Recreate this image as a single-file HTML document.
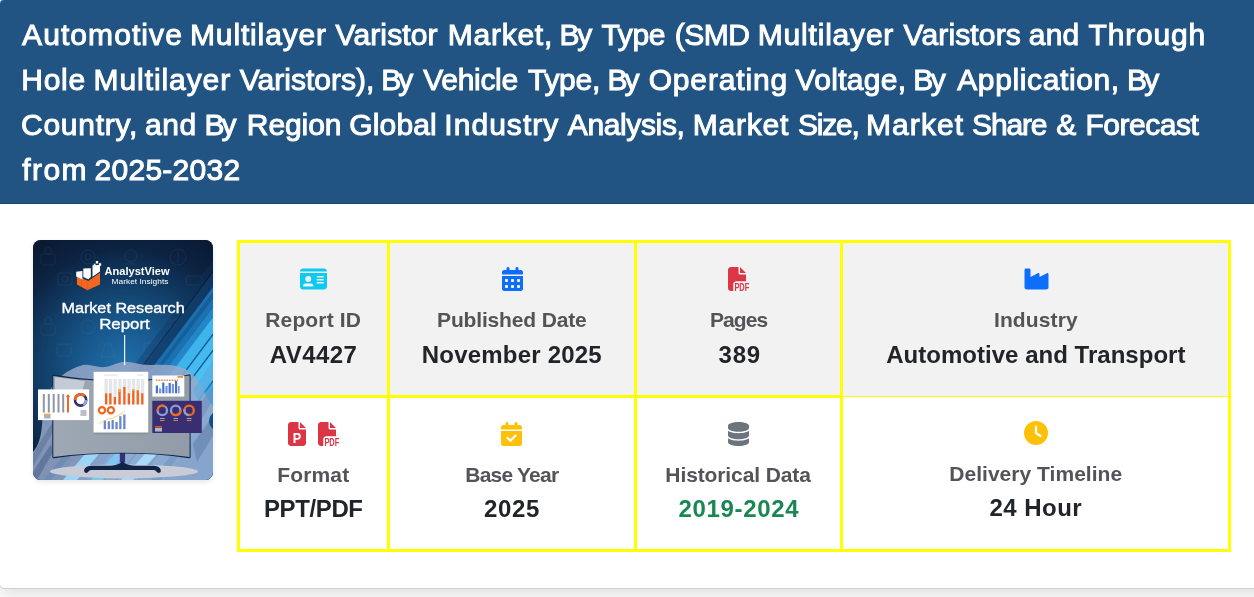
<!DOCTYPE html>
<html lang="en">
<head>
<meta charset="utf-8">
<title>Automotive Multilayer Varistor Market</title>
<style>
*{box-sizing:border-box;margin:0;padding:0}
html,body{width:1254px;height:597px;overflow:hidden}
body{background:#fff;font-family:"Liberation Sans",sans-serif;position:relative;color:#212529}
.card{position:absolute;left:-1px;top:-1px;width:1300px;height:590px;background:#fff;border:1px solid #cfcfcf;border-radius:5px;box-shadow:0 8px 16px rgba(0,0,0,.11)}
.hdr{position:absolute;left:0;top:0;width:1254px;height:204px;background:#215483;border-bottom:1px solid #1c4870;border-top-left-radius:4px;color:#fff}
.hdr h1{font-size:30px;line-height:45px;font-weight:400;-webkit-text-stroke:1px #fff}
.ln{position:absolute;left:0;height:45px;white-space:nowrap;display:block}
.ln span{position:absolute;top:0}
.cover{position:absolute;left:33px;top:240px;width:180px;height:240px;border-radius:8px;overflow:hidden;background:#0c2340;box-shadow:0 2px 5px rgba(0,0,0,.1)}
.cover svg{display:block}
.tbl{position:absolute;left:237px;top:240px;width:994px;height:312px;background:#ff0}
.bg{position:absolute}
.r1{background:#f2f2f2}
.r2{background:#fff}
.lab,.val{position:absolute;white-space:nowrap;font-weight:700}
.lab{font-size:21px;line-height:24px;color:#525458}
.val{font-size:24px;line-height:28px;color:#212529}
.i{position:absolute;display:block;overflow:visible}

</style>
</head>
<body>
<div class="card"></div>
<div class="hdr"><h1><span class="ln" style="top:12px"><span style="left:22.05px;letter-spacing:1.078px">Automotive</span> <span style="left:190.0px;letter-spacing:0.856px">Multilayer</span> <span style="left:335.5px;letter-spacing:0.136px">Varistor</span> <span style="left:447.7px;letter-spacing:0.767px">Market,</span> <span style="left:559.6px;letter-spacing:-2.45px">By</span> <span style="left:601.5px;letter-spacing:-0.383px">Type</span> <span style="left:674.65px;letter-spacing:-0.467px">(SMD</span> <span style="left:757.8px;letter-spacing:0.8px">Multilayer</span> <span style="left:903.5px;letter-spacing:0.15px">Varistors</span> <span style="left:1028.75px;letter-spacing:0.25px">and</span> <span style="left:1088.5px;letter-spacing:0.808px">Through</span></span>
<span class="ln" style="top:57px"><span style="left:21.3px;letter-spacing:0.7px">Hole</span> <span style="left:93.6px;letter-spacing:0.911px">Multilayer</span> <span style="left:239.8px;letter-spacing:0.015px">Varistors),</span> <span style="left:381.2px;letter-spacing:-2.95px">By</span> <span style="left:423.3px;letter-spacing:-0.317px">Vehicle</span> <span style="left:528.0px;letter-spacing:-0.287px">Type,</span> <span style="left:607.6px;letter-spacing:-3.15px">By</span> <span style="left:648.65px;letter-spacing:0.844px">Operating</span> <span style="left:795.5px;letter-spacing:0.307px">Voltage,</span> <span style="left:913.2px;letter-spacing:-2.45px">By</span> <span style="left:957.25px;letter-spacing:0.614px">Application,</span> <span style="left:1127.0px;letter-spacing:-2.75px">By</span></span>
<span class="ln" style="top:102px"><span style="left:21.0px;letter-spacing:0.743px">Country,</span> <span style="left:144.95px;letter-spacing:0.55px">and</span> <span style="left:204.5px;letter-spacing:-2.95px">By</span> <span style="left:246.8px;letter-spacing:-0.07px">Region</span> <span style="left:349.2px;letter-spacing:0.17px">Global</span> <span style="left:444.35px;letter-spacing:1.029px">Industry</span> <span style="left:567.85px;letter-spacing:-0.381px">Analysis,</span> <span style="left:692.8px;letter-spacing:0.76px">Market</span> <span style="left:798.05px;letter-spacing:-1.237px">Size,</span> <span style="left:866.1px;letter-spacing:1.04px">Market</span> <span style="left:972.05px;letter-spacing:-1.175px">Share</span> <span style="left:1056.3px;letter-spacing:0.0px">&amp;</span> <span style="left:1085.5px;letter-spacing:-0.486px">Forecast</span></span>
<span class="ln" style="top:147px"><span style="left:22.25px;letter-spacing:1.45px">from</span> <span style="left:94.6px;letter-spacing:0.25px">2025-2032</span></span>
</h1></div>
<div class="cover"><svg width="180" height="240" viewBox="0 0 180 240" font-family="Liberation Sans, sans-serif">
<defs>
<radialGradient id="cg" cx="92" cy="128" r="150" gradientUnits="userSpaceOnUse">
<stop offset="0" stop-color="#2170ac"/><stop offset=".3" stop-color="#18588d"/><stop offset=".58" stop-color="#113c65"/><stop offset=".8" stop-color="#0c2342"/><stop offset="1" stop-color="#0a1a33"/>
</radialGradient>
<linearGradient id="cs" x1="0" y1="0" x2="1" y2="0"><stop offset="0" stop-color="#9ea8b3"/><stop offset="1" stop-color="#929ca8"/></linearGradient>
<clipPath id="cc"><rect width="180" height="240"/></clipPath>
</defs>
<g clip-path="url(#cc)">
<rect width="180" height="240" fill="url(#cg)"/>
<g fill="none" stroke="#7fa0c8" stroke-width=".8" opacity=".13">
<rect x="8" y="14" width="14" height="11" rx="2"/><circle cx="15" cy="11" r="3.5"/>
<circle cx="55" cy="17" r="7"/><circle cx="55" cy="17" r="3"/>
<circle cx="98" cy="16" r="6"/><path d="M92 24h12"/>
<circle cx="145" cy="17" r="8"/><path d="M145 11v12"/>
<rect x="25" y="33" width="14" height="12" rx="2"/><circle cx="32" cy="39" r="3"/>
<rect x="153" y="36" width="16" height="9" rx="3"/>
<rect x="8" y="84" width="14" height="11" rx="2"/><circle cx="15" cy="81" r="3.5"/>
<circle cx="55" cy="87" r="7"/><circle cx="145" cy="87" r="8"/>
<path d="M72 104l-4 13h14l-4-13z"/><rect x="24" y="104" width="14" height="12" rx="2"/><rect x="111" y="103" width="14" height="13" rx="1"/>
</g>
<g>
<path d="M180.0 20.0L180.0 31.0L23.2 240.0L15.0 240.0z" fill="#0f3560" opacity="0.35"/>
<path d="M180.0 31.0L180.0 32.5L24.4 240.0L23.2 240.0z" fill="#081c3a" opacity="0.8"/>
<path d="M180.0 32.5L180.0 47.0L35.2 240.0L24.4 240.0z" fill="#123c69" opacity="0.8"/>
<path d="M180.0 47.0L180.0 53.0L39.8 240.0L35.2 240.0z" fill="#1a70ae"/>
<path d="M180.0 53.0L180.0 58.0L43.5 240.0L39.8 240.0z" fill="#165f9c"/>
<path d="M180.0 58.0L180.0 67.0L50.2 240.0L43.5 240.0z" fill="#1a72b0"/>
<path d="M180.0 67.0L180.0 77.0L57.8 240.0L50.2 240.0z" fill="#2386c8"/>
<path d="M180.0 77.0L180.0 93.5L70.1 240.0L57.8 240.0z" fill="#3db5ec"/>
<path d="M180.0 93.5L180.0 95.5L71.6 240.0L70.1 240.0z" fill="#14609e"/>
<path d="M180.0 95.5L180.0 109.6L82.2 240.0L71.6 240.0z" fill="#45baf0"/>
<path d="M180.0 109.6L180.0 111.6L83.7 240.0L82.2 240.0z" fill="#14609e"/>
<path d="M180.0 111.6L180.0 140.0L105.0 240.0L83.7 240.0z" fill="#4cbff3"/>
<path d="M180.0 140.0L180.0 142.0L106.5 240.0L105.0 240.0z" fill="#1767a8"/>
<path d="M180.0 142.0L180.0 175.0L131.2 240.0L106.5 240.0z" fill="#3aa9e6"/>
<path d="M180.0 175.0L180.0 240.0L180.0 240.0L131.2 240.0z" fill="#2b8fd2"/>
</g>
<path d="M0 240V212C6 205 8 196 9 185C10 165 16 148 25 139C32 132 42 127 50 125C58 123.500 64 128 72 127C80 126 85 121.800 92 121.800C100 121.800 108 125.500 118 125C130 124.400 142 124 151 128.500C160 133 165 140 169 148C173 156 178 162 180 167V240z" fill="#98a9cb" opacity=".84"/>
<g opacity=".55">
<path d="M0 214L22 178L26 182L0 226z" fill="#5b7396"/>
<path d="M0 232L18 204L20 212L4 240H0z" fill="#47618a"/>
<path d="M160 150L180 120V140L166 162z" fill="#5aa9e0"/>
<path d="M158 176L180 146V160L162 190z" fill="#6f8db8"/>
<path d="M160 204L180 176V196L164 222z" fill="#5f7fa8"/>
</g>
<circle cx="186" cy="181" r="10" fill="#0f4f8a"/>
<g>
<path d="M30 240L52 214H66L44 240z" fill="#9bd6f8"/><path d="M58 240L82 214H92L70 240z" fill="#7fc6f2"/><path d="M88 240L112 214H124L100 240z" fill="#a6dcfa"/><path d="M118 240L138 216H146L128 240z" fill="#7c9cc4"/><path d="M10 240L30 216H38L18 240z" fill="#6f8cb4"/>
</g>
<ellipse cx="90.9" cy="231.4" rx="74" ry="7" fill="#c9ccd6"/>
<path d="M86.800 213h5.300v9.500h-5.300z" fill="#3b2f73"/>
<path d="M89.500 220.500C87 225.500 80 225.800 70 225.800H58.500C53.500 225.800 50.800 228.600 51.200 231.200C51.500 233.200 54.300 233.500 55.400 231.800C56.300 230.400 57.800 230.100 60 230.100H119C121.200 230.100 122.700 230.400 123.600 231.800C124.700 233.500 127.500 233.200 127.800 231.200C128.200 228.600 125.500 225.800 120.500 225.800H109C99 225.800 92 225.500 89.500 220.500z" fill="#10244a"/>
<path d="M19.300 135.200Q20 134.400 21.500 134.700C45 138.500 68 140.300 89 140.300C110 140.300 133 138.400 156 134.400Q157.500 134.200 157.600 135.500V217Q157.600 218.500 156 218.200C134 215 112 213.600 89.500 213.600C67 213.600 43 215 21 218.200Q19.300 218.400 19.300 217z" fill="#12264c"/>
<path d="M20.300 135.900C45 139.700 68 141.300 89 141.300C110 141.300 133 139.500 156.600 135.600V217C134 214 112 212.700 89.500 212.700C67 212.700 43 214 20.300 217z" fill="url(#cs)"/>
<path d="M22 137.300L52 141L48 156L22 150z" fill="#c3cbd4"/>
<path d="M23 172C30 180 40 182 48 178L52 160L23 158z" fill="#b4bec9" opacity=".8"/>
<rect x="61" y="190" width="54.500" height="4.500" fill="#8a949f"/>
<rect x="5" y="149.400" width="51.100" height="30.700" fill="#fff"/>
<g fill="#8d97ab"><rect x="9.800" y="154" width="2" height="18.500"/><rect x="14.800" y="154" width="2" height="18.500"/><rect x="19.700" y="154" width="2" height="18.500"/><rect x="24.500" y="154" width="2" height="18.500"/><rect x="29.200" y="154" width="2" height="18.500"/><rect x="11" y="174.500" width="6.500" height="4" fill="#aab0bc"/><rect x="47.500" y="170" width="6" height="6" fill="#b9bec8"/></g>
<path d="M34 172.500v-15.500h-1.200l2.200-3l2.200 3h-1.200v15.500z" fill="#f2661f"/>
<rect x="11" y="173.600" width="6.500" height="1.200" fill="#f4a53a"/>
<circle cx="47.600" cy="160" r="5.600" fill="none" stroke="#3b2f73" stroke-width="2.600"/>
<path d="M42 160a5.600 5.600 0 0 1 9.500-4" fill="none" stroke="#f2661f" stroke-width="2.600"/>
<path d="M53.200 160a5.600 5.600 0 0 1-3 5" fill="none" stroke="#8f9fd8" stroke-width="2.600"/>
<rect x="60.600" y="131.800" width="54.600" height="60.700" fill="#fff"/>
<g fill="#e4e6ea"><rect x="71" y="134.500" width="14" height="1.200"/><rect x="104.500" y="134.500" width="6" height="1.200"/><rect x="71.500" y="139" width="3.200" height="25.500"/><rect x="76" y="139" width="3.200" height="25.500"/><rect x="80.500" y="139" width="3.200" height="25.500"/><rect x="85.200" y="139" width="3.200" height="25.500"/><rect x="90" y="139" width="3.200" height="25.500"/><rect x="94.500" y="139" width="3.200" height="25.500"/><rect x="99" y="139" width="3.200" height="25.500"/><rect x="103.500" y="139" width="3.200" height="25.500"/><rect x="108" y="139" width="3.200" height="25.500"/></g>
<g fill="#f2661f"><rect x="72" y="153.300" width="2.300" height="11.200"/><rect x="76.200" y="153.300" width="2.300" height="11.200"/><rect x="80.700" y="157" width="2.300" height="7.500"/><rect x="85.400" y="149.400" width="2.300" height="15.100"/><rect x="90.200" y="146.900" width="2.300" height="17.600"/><rect x="94.700" y="153.300" width="2.300" height="11.200"/><rect x="99.100" y="149.400" width="2.300" height="15.100"/><rect x="103.600" y="150.300" width="2.300" height="14.200"/><rect x="108.100" y="153.300" width="2.300" height="11.200"/></g>
<g fill="#f7b042"><rect x="85.400" y="149.400" width="2.300" height="2.600"/><rect x="99.100" y="149.400" width="2.300" height="1.600"/></g>
<circle cx="69" cy="170.300" r="3.100" fill="none" stroke="#f2661f" stroke-width="2.200"/><circle cx="77.900" cy="170.300" r="3.100" fill="none" stroke="#f2661f" stroke-width="2.200"/>
<g fill="#6c88c9"><rect x="70.700" y="180.400" width="2.300" height="8.800"/><rect x="74.700" y="181.200" width="2.300" height="8"/><rect x="78.500" y="180" width="2.300" height="9.200"/><rect x="82.400" y="182" width="2.300" height="7.200"/><rect x="86.200" y="176.200" width="2.300" height="13"/><rect x="90.200" y="174.500" width="2.300" height="14.700"/></g>
<path d="M66 183.500L74 179.500L80 178L84 176L88 174L92 171" fill="none" stroke="#f7c04a" stroke-width=".7"/>
<rect x="119.300" y="135.500" width="32" height="21.100" fill="#fff"/>
<rect x="144.500" y="136" width="5.500" height="1.800" fill="#f28a3a"/>
<path d="M123 140.200h22" stroke="#f28a3a" stroke-width="1.400" stroke-dasharray="1.600 1"/>
<g fill="#3e73d2"><rect x="122.800" y="145.500" width="2.200" height="7.800"/><rect x="126" y="148.500" width="2.200" height="4.800" fill="#7d93d6"/><rect x="129.200" y="142.500" width="2.200" height="10.800"/><rect x="132.400" y="146" width="2.200" height="7.300" fill="#7d93d6"/><rect x="135.600" y="143" width="2.200" height="10.300"/><rect x="138.800" y="144" width="2.200" height="9.300" fill="#7d93d6"/><rect x="142" y="141" width="2.200" height="12.300"/><rect x="145" y="146" width="1.600" height="7.300" fill="#7d93d6"/></g>
<rect x="119.300" y="160.800" width="49.500" height="32.200" fill="#3a2e73"/>
<g fill="none" stroke-width="2.300"><circle cx="129.300" cy="170.400" r="4.700" stroke="#8c9cd8"/><circle cx="142.700" cy="170.400" r="4.700" stroke="#8c9cd8"/><circle cx="156.100" cy="170.400" r="4.700" stroke="#f2661f"/>
<path d="M124.600 170.400a4.700 4.700 0 0 1 7-4.100" stroke="#f2661f"/><path d="M147.400 170.400a4.700 4.700 0 0 1-8.800 2.300" stroke="#f2661f"/><path d="M156.100 175.100a4.700 4.700 0 0 1-4.500-6" stroke="#8c9cd8"/></g>
<g fill="#b0b6c8"><rect x="127" y="178" width="4.600" height=".9"/><rect x="140.400" y="178" width="4.600" height=".9"/><rect x="153.800" y="178" width="4.600" height=".9"/><rect x="122" y="188" width="7" height="3.500"/></g>
<g fill="#f28a3a"><rect x="127" y="180" width="4.600" height=".9"/><rect x="140.400" y="180" width="4.600" height=".9"/><rect x="153.800" y="180" width="4.600" height=".9"/><rect x="122" y="186.200" width="7" height="1.300" fill="#f2661f"/></g>
<rect x="91.100" y="95" width="1.100" height="30.200" fill="#fff"/>
<g>
<path d="M43.900 36L55.300 41L67 32.700V44.400L54.400 50.300L43.900 44.400z" fill="#f2661f"/>
<path d="M54.400 42.500v7.800M48.500 39.500v7" stroke="#d9541a" stroke-width=".6" fill="none"/>
<path d="M43.200 31.800L49.400 31v8.600L43.200 36.500zM50.300 28.500L57.800 28.300V37L55.300 39.300L50.300 37zM59.500 25.200L67 25v6.500L59.500 36.800z" fill="#fff"/>
<path d="M62.800 21h2.400v2.400h-2.400zM65.800 23.300h2.400v2.400h-2.400zM60.700 23.800h1.800v1.800h-1.800z" fill="#fff"/>
</g>
<text x="71.500" y="34.900" font-size="10" font-weight="700" fill="#fff" textLength="65" lengthAdjust="spacingAndGlyphs">AnalystView</text>
<text x="78.600" y="44.100" font-size="7.200" fill="#fff" textLength="56.800" lengthAdjust="spacingAndGlyphs">Market Insights</text>
<text x="28.400" y="73.400" font-size="14.800" fill="#fff" stroke="#fff" stroke-width=".35" textLength="123.300" lengthAdjust="spacingAndGlyphs">Market Research</text>
<text x="66.200" y="89.300" font-size="14.800" fill="#fff" stroke="#fff" stroke-width=".35" textLength="50.600" lengthAdjust="spacingAndGlyphs">Report</text>
</g>
</svg>
</div>
<div class="tbl">
<div class="bg r1" style="left:3px;top:3px;width:147px;height:152px"></div>
<div class="bg r1" style="left:153px;top:3px;width:244px;height:152px"></div>
<div class="bg r1" style="left:400px;top:3px;width:203px;height:152px"></div>
<div class="bg r1" style="left:606px;top:3px;width:385px;height:153px"></div>
<div class="bg r2" style="left:3px;top:158px;width:147px;height:151px"></div>
<div class="bg r2" style="left:153px;top:158px;width:244px;height:151px"></div>
<div class="bg r2" style="left:400px;top:158px;width:203px;height:151px"></div>
<div class="bg r2" style="left:606px;top:157px;width:385px;height:152px"></div>
</div>
<div class="lab" style="left:265.25px;top:308px;letter-spacing:0.15px">Report ID</div>
<div class="val" style="left:269.7px;top:341px;letter-spacing:0.44px">AV4427</div>
<div class="lab" style="left:437.05px;top:308px;letter-spacing:-0.158px">Published Date</div>
<div class="val" style="left:421.8px;top:341px;letter-spacing:0.204px">November 2025</div>
<div class="lab" style="left:709.95px;top:308px;letter-spacing:-0.913px">Pages</div>
<div class="val" style="left:718.5px;top:341px;letter-spacing:0.825px">389</div>
<div class="lab" style="left:993.95px;top:308px;letter-spacing:0.129px">Industry</div>
<div class="val" style="left:886.2px;top:341px;letter-spacing:0.026px">Automotive and Transport</div>
<div class="lab" style="left:277.35px;top:463px;letter-spacing:0.13px">Format</div>
<div class="val" style="left:263.9px;top:495px;letter-spacing:-0.367px">PPT/PDF</div>
<div class="lab" style="left:465.35px;top:463px;letter-spacing:-0.788px">Base Year</div>
<div class="val" style="left:484.05px;top:495px;letter-spacing:0.633px">2025</div>
<div class="lab" style="left:665.35px;top:463px;letter-spacing:-0.107px">Historical Data</div>
<div class="val" style="left:678.55px;top:495px;letter-spacing:0.663px;color:#198754">2019-2024</div>
<div class="lab" style="left:949.25px;top:462px;letter-spacing:0.031px">Delivery Timeline</div>
<div class="val" style="left:989.55px;top:494px;letter-spacing:0.458px">24 Hour</div>
<svg class="i" style="left:300px;top:267px" width="27" height="24" viewBox="0 0 576 512" fill="#0dcaf0"><path d="M0 96l576 0c0-35.300-28.700-64-64-64L64 32C28.700 32 0 60.700 0 96zm0 32L0 416c0 35.300 28.700 64 64 64l448 0c35.300 0 64-28.700 64-64l0-288L0 128zM64 405.300c0-29.500 23.900-53.300 53.300-53.300l117.300 0c29.500 0 53.300 23.900 53.300 53.300c0 5.900-4.800 10.700-10.700 10.700L74.700 416c-5.900 0-10.700-4.800-10.700-10.700zM176 192a64 64 0 1 1 0 128 64 64 0 1 1 0-128zm176 16c0-8.800 7.200-16 16-16l128 0c8.800 0 16 7.200 16 16s-7.200 16-16 16l-128 0c-8.800 0-16-7.200-16-16zm0 64c0-8.800 7.200-16 16-16l128 0c8.800 0 16 7.200 16 16s-7.200 16-16 16l-128 0c-8.800 0-16-7.200-16-16zm0 64c0-8.800 7.200-16 16-16l128 0c8.800 0 16 7.200 16 16s-7.200 16-16 16l-128 0c-8.800 0-16-7.200-16-16z"/></svg>
<svg class="i" style="left:501.6px;top:267px" width="21" height="24" viewBox="0 0 448 512" fill="#0d6efd"><path d="M128 0c17.700 0 32 14.300 32 32V64H288V32c0-17.700 14.300-32 32-32s32 14.300 32 32V64h48c26.500 0 48 21.500 48 48v48H0V112C0 85.500 21.500 64 48 64H96V32c0-17.700 14.300-32 32-32zM0 192H448V464c0 26.500-21.500 48-48 48H48c-26.500 0-48-21.500-48-48V192zm64 80v32c0 8.800 7.200 16 16 16h32c8.800 0 16-7.200 16-16V272c0-8.800-7.200-16-16-16H80c-8.800 0-16 7.200-16 16zm128 0v32c0 8.800 7.200 16 16 16h32c8.800 0 16-7.200 16-16V272c0-8.800-7.200-16-16-16H208c-8.800 0-16 7.200-16 16zm144-16c-8.800 0-16 7.200-16 16v32c0 8.800 7.200 16 16 16h32c8.800 0 16-7.200 16-16V272c0-8.800-7.200-16-16-16H336zM64 400v32c0 8.800 7.200 16 16 16h32c8.800 0 16-7.200 16-16V400c0-8.800-7.200-16-16-16H80c-8.800 0-16 7.200-16 16zm144-16c-8.800 0-16 7.200-16 16v32c0 8.800 7.200 16 16 16h32c8.800 0 16-7.200 16-16V400c0-8.800-7.200-16-16-16H208zm112 16v32c0 8.800 7.200 16 16 16h32c8.800 0 16-7.200 16-16V400c0-8.800-7.200-16-16-16H336c-8.800 0-16 7.200-16 16z"/></svg>
<svg class="i" style="left:728px;top:267px" width="24" height="24" viewBox="0 0 512 512" fill="#dc3545"><path d="M0 64C0 28.700 28.700 0 64 0H224V128c0 17.700 14.300 32 32 32H384V304H176c-35.300 0-64 28.700-64 64V512H64c-35.300 0-64-28.700-64-64V64zm384 64H256V0L384 128z"/><text x="136" y="508" font-family="Liberation Sans, sans-serif" font-weight="700" font-size="222" textLength="320" lengthAdjust="spacingAndGlyphs">PDF</text></svg>
<svg class="i" style="left:1022.8px;top:267px" width="27" height="24" viewBox="0 0 576 512" fill="#0d6efd"><path d="M64 32C46.300 32 32 46.300 32 64V304v48 80c0 26.500 21.500 48 48 48H496c26.500 0 48-21.500 48-48V304 152.200c0-18.200-19.400-29.700-35.400-21.100L352 215.400V152.200c0-18.200-19.400-29.700-35.400-21.100L160 215.400V64c0-17.700-14.300-32-32-32H64z"/></svg>
<svg class="i" style="left:287.7px;top:422px" width="18" height="24" viewBox="0 0 384 512" fill="#dc3545"><path d="M64 0C28.700 0 0 28.700 0 64V448c0 35.300 28.700 64 64 64H320c35.300 0 64-28.700 64-64V160H256c-17.700 0-32-14.300-32-32V0H64zM256 0V128H384L256 0z"/><text x="103" y="448" fill="#fff" font-family="Liberation Sans, sans-serif" font-weight="700" font-size="300" textLength="180" lengthAdjust="spacingAndGlyphs">P</text></svg>
<svg class="i" style="left:318px;top:422px" width="24" height="24" viewBox="0 0 512 512" fill="#dc3545"><path d="M0 64C0 28.700 28.700 0 64 0H224V128c0 17.700 14.300 32 32 32H384V304H176c-35.300 0-64 28.700-64 64V512H64c-35.300 0-64-28.700-64-64V64zm384 64H256V0L384 128z"/><text x="136" y="508" font-family="Liberation Sans, sans-serif" font-weight="700" font-size="222" textLength="320" lengthAdjust="spacingAndGlyphs">PDF</text></svg>
<svg class="i" style="left:501.3px;top:422px" width="21" height="24" viewBox="0 0 448 512" fill="#ffc107"><path d="M128 0c17.700 0 32 14.300 32 32V64H288V32c0-17.700 14.300-32 32-32s32 14.300 32 32V64h48c26.500 0 48 21.500 48 48v48H0V112C0 85.500 21.500 64 48 64H96V32c0-17.700 14.300-32 32-32zM0 192H448V464c0 26.500-21.500 48-48 48H48c-26.500 0-48-21.500-48-48V192zM329 305c9.400-9.400 9.400-24.600 0-33.900s-24.600-9.400-33.900 0l-95 95-47-47c-9.400-9.400-24.600-9.400-33.900 0s-9.400 24.600 0 33.900l64 64c9.400 9.400 24.600 9.400 33.900 0L329 305z"/></svg>
<svg class="i" style="left:728px;top:422px" width="21" height="24" viewBox="0 0 448 512" fill="#6c757d"><path d="M448 80v48c0 44.200-100.300 80-224 80S0 172.200 0 128V80C0 35.800 100.300 0 224 0S448 35.800 448 80zM393.200 214.700c20.800-7.400 39.900-16.900 54.800-28.600V288c0 44.200-100.300 80-224 80S0 332.200 0 288V186.100c14.900 11.800 34 21.200 54.800 28.600C99.700 230.700 159.500 240 224 240s124.300-9.300 169.200-25.300zM0 346.100c14.900 11.800 34 21.200 54.800 28.600C99.700 390.700 159.500 400 224 400s124.300-9.300 169.200-25.300c20.800-7.400 39.900-16.900 54.800-28.600V432c0 44.200-100.300 80-224 80S0 476.200 0 432V346.100z"/></svg>
<svg class="i" style="left:1023.7px;top:421px" width="24" height="24" viewBox="0 0 512 512" fill="#ffc107"><path d="M256 0a256 256 0 1 1 0 512A256 256 0 1 1 256 0zM232 120V256c0 8 4 15.500 10.700 20l96 64c11 7.400 25.900 4.400 33.300-6.700s4.400-25.900-6.700-33.300L280 243.200V120c0-13.300-10.700-24-24-24s-24 10.700-24 24z"/></svg>
</body>
</html>
